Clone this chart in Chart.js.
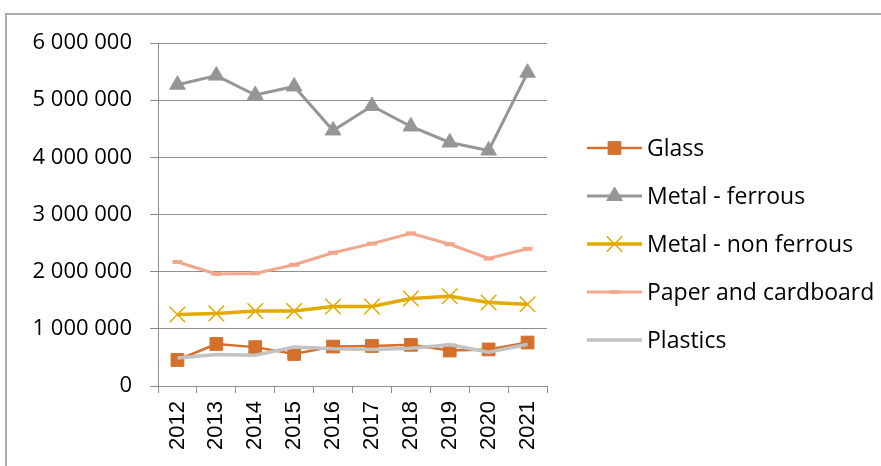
<!DOCTYPE html>
<html>
<head>
<meta charset="utf-8">
<script src="https://cdn.jsdelivr.net/npm/chart.js@4/dist/chart.umd.min.js"></script>
<style>
  html, body { margin: 0; padding: 0; background: #fff; overflow: hidden; }
  #wrap { position: relative; width: 881px; height: 466px; }
  #frame { position: absolute; left: 5px; top: 13px; width: 1000px; height: 600px;
           border: 2px solid #ababab; box-sizing: border-box; }
  canvas { position: absolute; left: 0; top: 0; }
</style>
</head>
<body>
<div id="wrap">
  <div id="frame"></div>
  <canvas id="c" width="881" height="466"></canvas>
</div>
<script>
// Tonnes collected per material, 2012-2021
const years = ['2012', '2013', '2014', '2015', '2016', '2017', '2018', '2019', '2020', '2021'];
const glass        = [455000, 735000, 680000, 560000, 690000, 700000, 720000, 620000, 640000, 760000];
const metalFerrous = [5270000, 5430000, 5090000, 5240000, 4470000, 4900000, 4540000, 4260000, 4120000, 5480000];
const metalNonFerrous = [1250000, 1270000, 1310000, 1310000, 1390000, 1390000, 1530000, 1570000, 1460000, 1430000];
const paper        = [2170000, 1960000, 1970000, 2120000, 2330000, 2490000, 2670000, 2480000, 2230000, 2400000];
const plastics     = [490000, 550000, 540000, 680000, 650000, 640000, 660000, 720000, 590000, 730000];
const yTicks = [0, 1000000, 2000000, 3000000, 4000000, 5000000, 6000000];

const UI_FONT = '"Open Sans", "Noto Sans", sans-serif';

function fmt(v) {
  return String(v).replace(/\B(?=(\d{3})+(?!\d))/g, ' ');
}

// Legend: line segment with the series marker in its middle, then the name
const sideLegend = {
  id: 'sideLegend',
  afterDraw(chart) {
    const ctx = chart.ctx;
    const x0 = 587, x1 = 642, top = 148, step = 48;
    chart.data.datasets.forEach((ds, i) => {
      const y = top + i * step;
      ctx.save();
      ctx.strokeStyle = ds.borderColor;
      ctx.lineWidth = ds.borderWidth;
      ctx.beginPath();
      ctx.moveTo(x0, y);
      ctx.lineTo(x1, y);
      ctx.stroke();
      ctx.restore();
      if (ds.pointRadius > 0) {
        ctx.save();
        ctx.fillStyle = ds.pointBackgroundColor;
        ctx.strokeStyle = ds.pointBorderColor;
        ctx.lineWidth = ds.pointBorderWidth;
        Chart.helpers.drawPoint(ctx, {
          pointStyle: ds.pointStyle,
          radius: ds.pointRadius,
          borderWidth: ds.pointBorderWidth,
          rotation: 0
        }, (x0 + x1) / 2, y);
        ctx.restore();
      }
      ctx.save();
      ctx.fillStyle = '#000';
      ctx.font = '23px ' + UI_FONT;
      ctx.textBaseline = 'middle';
      ctx.textAlign = 'left';
      ctx.fillText(ds.label, 647, y + 1);
      ctx.restore();
    });
  }
};

new Chart(document.getElementById('c'), {
  type: 'line',
  data: {
    labels: years,
    datasets: [
      {
        label: 'Glass', data: glass, order: 1,
        borderColor: '#D4702C', borderWidth: 2.5,
        pointStyle: 'rect', pointRadius: 9, pointHoverRadius: 9,
        pointBackgroundColor: '#D4702C', pointBorderColor: '#D4702C', pointBorderWidth: 1
      },
      {
        label: 'Metal - ferrous', data: metalFerrous, order: 2,
        borderColor: '#969696', borderWidth: 3,
        pointStyle: 'triangle', pointRadius: 9, pointHoverRadius: 9,
        pointBackgroundColor: '#969696', pointBorderColor: '#969696', pointBorderWidth: 1
      },
      {
        label: 'Metal - non ferrous', data: metalNonFerrous, order: 3,
        borderColor: '#E3AA00', borderWidth: 3.5,
        pointStyle: 'crossRot', pointRadius: 11, pointHoverRadius: 11,
        pointBackgroundColor: '#E3AA00', pointBorderColor: '#E3AA00', pointBorderWidth: 1.5
      },
      {
        label: 'Paper and cardboard', data: paper, order: 4,
        borderColor: '#F3A68B', borderWidth: 3,
        pointStyle: 'line', pointRadius: 5, pointHoverRadius: 5,
        pointBackgroundColor: '#F3A68B', pointBorderColor: '#F3A68B', pointBorderWidth: 4
      },
      {
        label: 'Plastics', data: plastics, order: 0,
        borderColor: '#C2C2C2', borderWidth: 3.5,
        pointRadius: 0, pointHoverRadius: 0,
        pointBackgroundColor: '#C2C2C2', pointBorderColor: '#C2C2C2', pointBorderWidth: 1
      }
    ]
  },
  options: {
    responsive: false,
    animation: false,
    events: [],
    layout: { padding: { left: 0, top: 43, right: 334, bottom: 0 } },
    plugins: {
      legend: { display: false },
      tooltip: { enabled: false }
    },
    scales: {
      x: {
        offset: true,
        grid: { drawOnChartArea: false, drawTicks: true, tickLength: 7, offset: true, color: '#8e8e8e', lineWidth: 1 },
        border: { color: '#8e8e8e', width: 1 },
        ticks: {
          color: '#000', minRotation: 90, maxRotation: 90, padding: 8,
          font: { family: '"Liberation Sans", Arial, sans-serif', size: 22 }
        },
        afterFit(s) { s.height = 80; }
      },
      y: {
        min: 0, max: 6000000,
        afterBuildTicks(s) { s.ticks = yTicks.map(v => ({ value: v })); },
        grid: { color: '#8e8e8e', lineWidth: 1, drawTicks: true, tickLength: 8 },
        border: { color: '#8e8e8e', width: 1 },
        ticks: {
          color: '#000', padding: 18,
          font: { family: UI_FONT, size: 22 },
          callback: v => fmt(v)
        },
        afterFit(s) { s.width = 158; }
      }
    }
  },
  plugins: [sideLegend]
});
</script>
</body>
</html>
